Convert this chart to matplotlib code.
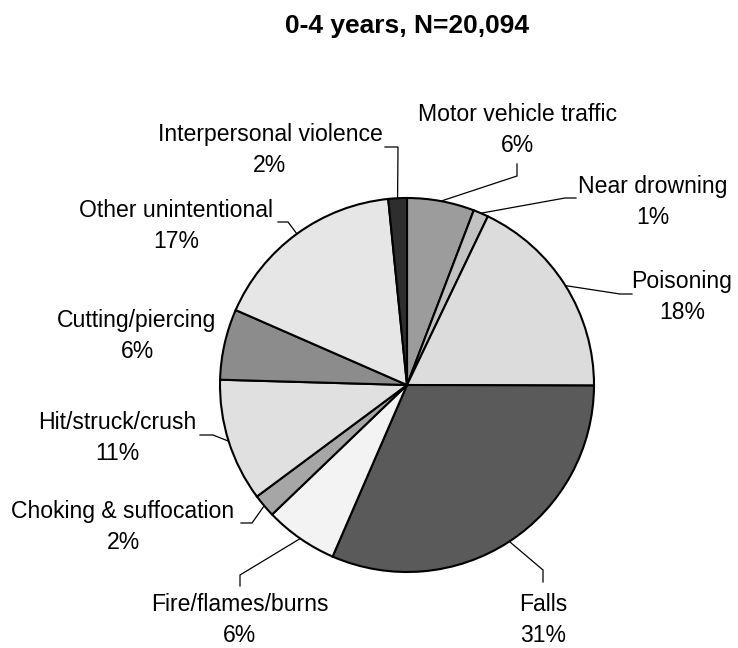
import numpy as np
import matplotlib
matplotlib.use("Agg")
import matplotlib.pyplot as plt

# ---- data ----
categories = ["Motor vehicle traffic", "Near drowning", "Poisoning", "Falls",
              "Fire/flames/burns", "Choking & suffocation", "Hit/struck/crush",
              "Cutting/piercing", "Other unintentional", "Interpersonal violence"]
shares = [5.8, 1.3, 17.9, 31.4, 6.3, 2.0, 10.6, 6.1, 16.8, 1.6]
title = "0-4 years, N=20,094"

# ---- styles / layout ----
colors = ["#9c9c9c", "#c2c2c2", "#dcdcdc", "#5a5a5a", "#f3f3f3",
          "#a6a6a6", "#e0e0e0", "#8c8c8c", "#e6e6e6", "#2e2e2e"]
W, H = 738, 648
center_px = (407, 385)
radius = 187
# label text centres (pixel coords, y downward)
label_pos = [(517, 130), (653, 202), (682, 297), (543, 620), (240, 620),
             (123, 527), (117, 438), (137, 336), (176, 226), (270, 150)]
# leader elbow and end points (pixel coords); None = no leader
leaders = [((517, 176), (517, 164)),
           ((565, 198), (576, 198)),
           ((620, 294), (632, 294)),
           ((543, 570), (543, 582)),
           ((240, 575), (240, 586)),
           ((252, 523), (241, 523)),
           ((213, 435), (200, 435)),
           None,
           ((288, 222), (278, 222)),
           ((398, 147), (385, 147))]

def P(x, y):
    return (x, H - y)

plt.rcParams['font.family'] = ['Liberation Sans', 'DejaVu Sans']
fig = plt.figure(figsize=(W / 100, H / 100), dpi=100)
ax = fig.add_axes([0, 0, 1, 1])

wedges, _ = ax.pie(shares, colors=colors, startangle=90, counterclock=False,
                   radius=radius, center=P(*center_px),
                   wedgeprops=dict(edgecolor='black', linewidth=1.5),
                   frame=True)
ax.set_xlim(0, W)
ax.set_ylim(0, H)
ax.set_aspect('equal')
ax.axis('off')

total = sum(shares)
cx, cy = P(*center_px)
for w, cat, v, lp, ld in zip(wedges, categories, shares, label_pos, leaders):
    mid = np.deg2rad((w.theta1 + w.theta2) / 2)
    ex, ey = cx + radius * np.cos(mid), cy + radius * np.sin(mid)
    if ld is not None:
        (bx, by), (tx, ty) = P(*ld[0]), P(*ld[1])
        ax.plot([ex, bx, tx], [ey, by, ty], color='black', lw=0.9,
                solid_joinstyle='miter')
    pct = round(v / total * 100)
    ax.text(*P(*lp), f"{cat}\n{pct}%", ha='center', va='center',
            multialignment='center', fontsize=16.6, linespacing=1.42)

ax.text(*P(407, 26), title, ha='center', va='center', fontsize=19,
        fontweight='bold')

fig.savefig("out.png", dpi=100, facecolor='white')
